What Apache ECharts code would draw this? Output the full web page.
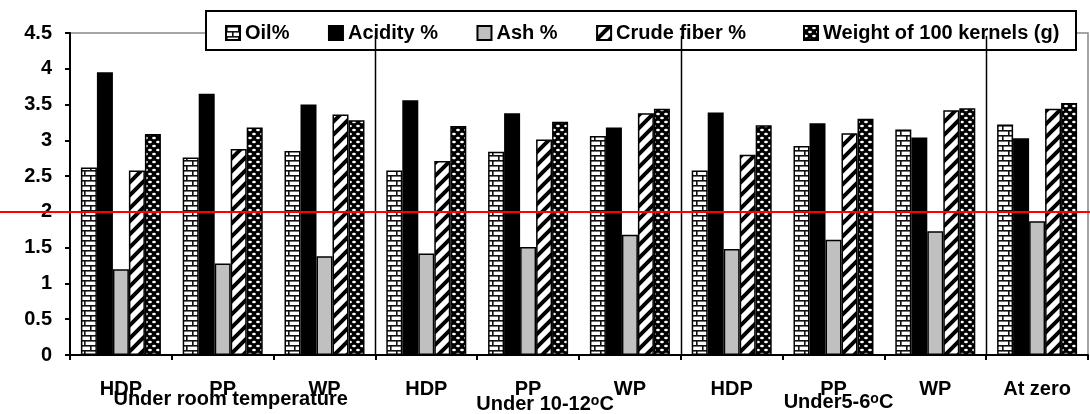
<!DOCTYPE html>
<html><head><meta charset="utf-8">
<script src="https://cdn.jsdelivr.net/npm/echarts@6/dist/echarts.min.js"></script>
<style>html,body{margin:0;padding:0;background:#fff}#c{width:1090px;height:414px}</style>
</head><body><div id="c"></div>
<script>
// ---- data ----
const categories = ['HDP','PP','WP','HDP','PP','WP','HDP','PP','WP','At zero'];
const seriesNames = ['Oil%','Acidity %','Ash %','Crude fiber %','Weight of 100 kernels (g)'];
const oil      = [2.62,2.76,2.85,2.58,2.84,3.06,2.58,2.92,3.15,3.22];
const acidity  = [3.95,3.65,3.50,3.56,3.38,3.18,3.39,3.24,3.04,3.03];
const ash      = [1.20,1.28,1.38,1.42,1.51,1.68,1.48,1.61,1.73,1.87];
const crude    = [2.58,2.88,3.36,2.71,3.01,3.38,2.80,3.10,3.42,3.44];
const weight   = [3.09,3.18,3.28,3.20,3.26,3.44,3.21,3.30,3.45,3.52];
const yMin = 0, yMax = 4.5, yInterval = 0.5;
const groupTitles = [
  {cat: 1, parts: ['Under room temperature']},
  {cat: 4, parts: ['Under 10-12', 'o', 'C']},
  {cat: 7, parts: ['Under5-6', 'o', 'C']}
];
const separatorsAfter = [2, 5, 8];
const referenceValue = 2;

// ---- patterns ----
function mk(w, h, draw){ const c=document.createElement('canvas'); c.width=w; c.height=h; const g=c.getContext('2d'); draw(g,w,h); return {image:c, repeat:'repeat'}; }
const brickPat = mk(12, 10, (g,w,h)=>{
  g.fillStyle='#fff'; g.fillRect(0,0,w,h);
  g.fillStyle='#111';
  g.fillRect(0,0,w,1.6); g.fillRect(0,5,w,1.6);
  g.fillRect(0,0,1.6,5); g.fillRect(6,5,1.6,5);
});
const diagPat = mk(13, 13, (g,w,h)=>{
  g.fillStyle='#fff'; g.fillRect(0,0,w,h);
  g.strokeStyle='#000'; g.lineWidth=4;
  g.beginPath();
  g.moveTo(-6.5,6.5); g.lineTo(6.5,-6.5);
  g.moveTo(0,13); g.lineTo(13,0);
  g.moveTo(6.5,19.5); g.lineTo(19.5,6.5);
  g.stroke();
});
const dotPat = mk(8, 8, (g,w,h)=>{
  g.fillStyle='#000'; g.fillRect(0,0,w,h);
  g.fillStyle='#fff';
  [[2,2],[6,6]].forEach(([x,y])=>{ g.beginPath(); g.ellipse(x,y,1.9,1.3,0,0,Math.PI*2); g.fill(); });
});

const FONT = '"Liberation Sans", Arial, sans-serif';
const fills = [brickPat, '#000000', '#C0C0C0', diagPat, dotPat];
const values = [oil, acidity, ash, crude, weight];
const legendText = {fontFamily: FONT, fontSize: 20, fontWeight: 'bold', color: '#000'};

const chart = echarts.init(document.getElementById('c'), null, {renderer:'canvas'});
const option = {
  animation: false,
  backgroundColor: '#fff',
  grid: {left: 70, right: 2, top: 33, bottom: 59, show: true, borderColor: '#888', borderWidth: 1.5, containLabel: false, outerBoundsMode: 'none'},
  legend: [
    {left: 225, top: 23, z: 5, padding: 0, itemGap: 38.5, itemWidth: 14, itemHeight: 14, icon: 'rect',
     textStyle: legendText, data: seriesNames.slice(0, 4)},
    {left: 803, top: 23, z: 5, padding: 0, itemWidth: 14, itemHeight: 14, icon: 'rect',
     textStyle: legendText, data: seriesNames.slice(4)}
  ],
  xAxis: {
    type: 'category', data: categories,
    axisLine: {lineStyle: {color: '#000', width: 2}},
    axisTick: {show: true, length: 5, lineStyle: {color: '#000', width: 2}},
    axisLabel: {interval: 0, margin: 24, color: '#000', fontFamily: FONT, fontSize: 20, fontWeight: 'bold'},
    splitLine: {show: false}
  },
  yAxis: {
    type: 'value', min: yMin, max: yMax, interval: yInterval,
    axisLine: {show: true, lineStyle: {color: '#000', width: 2}},
    axisTick: {show: true, length: 5, lineStyle: {color: '#000', width: 2}},
    axisLabel: {margin: 18, color: '#000', fontFamily: FONT, fontSize: 20, fontWeight: 'bold'},
    splitLine: {show: false}
  },
  series: seriesNames.map((n, i) => ({
    name: n, type: 'bar', data: values[i], barWidth: 16, barGap: '0%',
    itemStyle: {color: fills[i], borderColor: '#000', borderWidth: 1.5}
  }))
};
chart.setOption(option);

function px(i){ return chart.convertToPixel({xAxisIndex: 0}, i); }
const y0 = chart.convertToPixel({yAxisIndex: 0}, yMin);
const yTop = chart.convertToPixel({yAxisIndex: 0}, yMax);
const yRef = chart.convertToPixel({yAxisIndex: 0}, referenceValue);
const titleOffsets = [{dx: 8, dy: 34}, {dx: 17, dy: 39}, {dx: 5, dy: 37}];

const graphics = [];
// legend frame
graphics.push({type: 'rect', z: 3, shape: {x: 206, y: 11, width: 870, height: 39}, style: {fill: '#fff', stroke: '#000', lineWidth: 2}});
separatorsAfter.forEach(i => {
  const x = Math.round((px(i) + px(i + 1)) / 2) + 0.5;
  graphics.push({type: 'line', z: 10, shape: {x1: x, y1: yTop + 3, x2: x, y2: y0}, style: {stroke: '#000', lineWidth: 1.5}});
});
groupTitles.forEach((t, k) => {
  const rich = {a: {fontFamily: FONT, fontSize: 20, fontWeight: 'bold', fill: '#000', lineHeight: 20, verticalAlign: 'bottom'},
                s: {fontFamily: FONT, fontSize: 14, fontWeight: 'bold', fill: '#000', lineHeight: 11, verticalAlign: 'top'}};
  let text = '{a|' + t.parts[0] + '}';
  if (t.parts.length > 1) text += '{s|' + t.parts[1] + '}{a|' + t.parts[2] + '}';
  graphics.push({type: 'text', z: 10, x: px(t.cat) + titleOffsets[k].dx, y: y0 + titleOffsets[k].dy,
    style: {text: text, rich: rich, align: 'center', verticalAlign: 'top', fill: '#000'}});
});
graphics.push({type: 'line', z: 20, shape: {x1: 0, y1: yRef, x2: 1090, y2: yRef}, style: {stroke: '#FF0000', lineWidth: 2}});
chart.setOption({graphic: graphics});
</script></body></html>
